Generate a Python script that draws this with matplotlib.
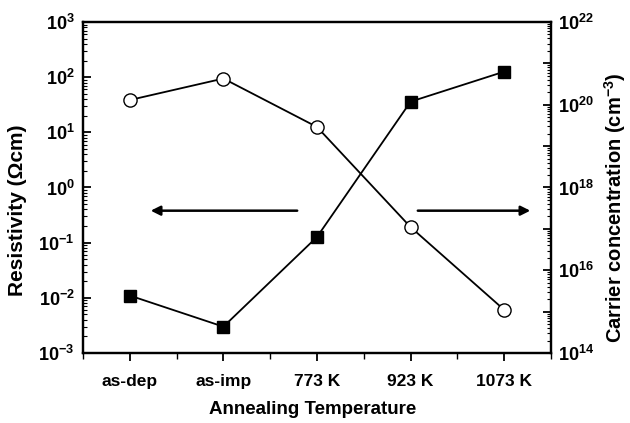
import math
import matplotlib
matplotlib.use("Agg")
import matplotlib.pyplot as plt
from matplotlib.ticker import FuncFormatter, LogLocator, NullFormatter

plt.rcParams['font.family'] = ['Liberation Sans', 'DejaVu Sans']
plt.rcParams['font.weight'] = 'bold'
plt.rcParams['mathtext.fontset'] = 'custom'
plt.rcParams['mathtext.rm'] = 'Liberation Sans:bold'
plt.rcParams['mathtext.it'] = 'Liberation Sans:bold'
plt.rcParams['mathtext.bf'] = 'Liberation Sans:bold'
plt.rcParams['mathtext.default'] = 'rm'

categories = ['as-dep', 'as-imp', '773 K', '923 K', '1073 K']
resistivity = [0.011, 0.003, 0.127, 36, 126]           # Ωcm, filled squares (left axis)
carrier_conc = [1.3e20, 4.3e20, 2.9e19, 1.1e17, 1.1e15]  # cm^-3, open circles (right axis)

fig = plt.figure(figsize=(6.3, 4.23), dpi=100)
ax = fig.add_axes([0.1317, 0.1655, 0.743, 0.7825])
ax2 = ax.twinx()

x = list(range(len(categories)))
ax.plot(x, resistivity, '-', color='black', lw=1.3, marker='s', ms=8.5,
        mfc='black', mec='black', zorder=3)
ax2.plot(x, carrier_conc, '-', color='black', lw=1.3, marker='o', ms=9.5,
         mfc='white', mec='black', mew=1.0, zorder=3)

ax.set_yscale('log')
ax.set_ylim(1e-3, 1e3)
ax2.set_yscale('log')
ax2.set_ylim(1e14, 1e22)
ax.set_xlim(-0.5, len(categories) - 0.5)

ax.set_xticks(x)
ax.set_xticklabels(categories, fontsize=12.5, fontweight='bold')
ax.set_xticks([i + 0.5 for i in range(-1, len(categories))], minor=True)
ax.tick_params(axis='x', which='major', direction='out', length=6, width=1.3, pad=9)
ax.tick_params(axis='x', which='minor', direction='out', length=4, width=1.0)

def sup_fmt(v, pos):
    e = int(round(math.log10(v)))
    return r'$10^{%d}$' % e

ax.yaxis.set_major_locator(LogLocator(base=10, numticks=20))
ax.yaxis.set_minor_locator(LogLocator(base=10, subs=range(2, 10), numticks=20))
ax.yaxis.set_major_formatter(FuncFormatter(sup_fmt))
ax.yaxis.set_minor_formatter(NullFormatter())
ax.tick_params(axis='y', which='major', direction='in', length=6, width=1.3, labelsize=13, pad=6)
ax.tick_params(axis='y', which='minor', direction='in', length=3, width=0.8)

def sup_fmt2(v, pos):
    e = int(round(math.log10(v)))
    return r'$10^{%d}$' % e if e % 2 == 0 else ''

ax2.yaxis.set_major_locator(LogLocator(base=10, numticks=20))
ax2.yaxis.set_minor_locator(LogLocator(base=10, subs=range(2, 10), numticks=20))
ax2.yaxis.set_major_formatter(FuncFormatter(sup_fmt2))
ax2.yaxis.set_minor_formatter(NullFormatter())
ax2.tick_params(axis='y', which='major', direction='in', length=6, width=1.3, labelsize=13, pad=5)
ax2.tick_params(axis='y', which='minor', direction='in', length=3, width=0.8)

for a in (ax, ax2):
    for s in a.spines.values():
        s.set_linewidth(1.6)

ax.set_xlabel('Annealing Temperature', fontsize=13.5, fontweight='bold')
ax.set_ylabel('Resistivity (Ωcm)', fontsize=15, fontweight='bold')
ax2.set_ylabel(r'Carrier concentration (cm$^{-3}$)', fontsize=14.5, fontweight='bold')
ax.xaxis.set_label_coords(0.49, -0.172)
ax.xaxis.label.set_va('center')
ax.yaxis.set_label_coords(-0.139, 0.432)
ax.yaxis.label.set_va('center')
ax2.yaxis.set_label_coords(1.136, 0.438)
ax2.yaxis.label.set_va('center')

ax.annotate('', xy=(0.194, 0.38), xytext=(1.818, 0.38),
            arrowprops=dict(arrowstyle='-|>', color='black', lw=1.8, mutation_scale=14))
ax.annotate('', xy=(4.308, 0.38), xytext=(3.047, 0.38),
            arrowprops=dict(arrowstyle='-|>', color='black', lw=1.8, mutation_scale=14))

fig.savefig('out.png', dpi=100)
